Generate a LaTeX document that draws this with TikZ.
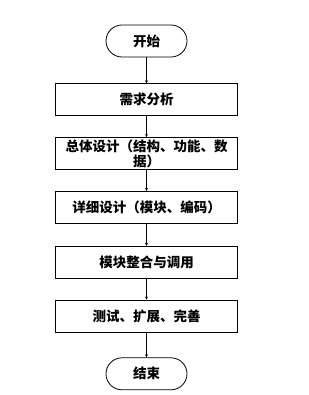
\documentclass[tikz,border=0pt]{standalone}
\usepackage{fontspec}
\newfontfamily\cjk{Noto Sans CJK SC}
\usetikzlibrary{arrows.meta,positioning}

\tikzset{
  stepbox/.style={draw, thick, minimum width=182pt, minimum height=32pt,
    inner sep=0pt, align=center, font=\cjk\bfseries\fontsize{13.5pt}{15pt}\selectfont},
  termbox/.style={draw, thick, rounded corners=16pt, minimum width=81pt,
    minimum height=32pt, inner sep=0pt, font=\cjk\bfseries\fontsize{13.5pt}{15pt}\selectfont},
}

\begin{document}
\begin{tikzpicture}[>=stealth]
            \useasboundingbox (0,0) rectangle (308pt,-395pt);

            % Start / end
            \node[termbox] (start) at (146.5pt,-41pt) {开始};

            % Steps
            \node[stepbox, below=26pt of start] (analysis) {需求分析};
            \node[stepbox, below=21pt of analysis] (overall) {总体设计（结构、功能、数\\据）};
            \node[stepbox, below=21pt of overall] (detail) {详细设计（模块、编码）};
            \node[stepbox, below=22pt of detail] (integrate) {模块整合与调用};
            \node[stepbox, below=21pt of integrate] (test) {测试、扩展、完善};

            \node[termbox, below=25pt of test] (finish) {结束};

            % Arrows
            \draw[->] (start) -- (analysis);
            \draw[->] (analysis) -- (overall);
            \draw[->] (overall) -- (detail);
            \draw[->] (detail) -- (integrate);
            \draw[->] (integrate) -- (test);
            \draw[->] (test) -- (finish);
        \end{tikzpicture}
\end{document}
